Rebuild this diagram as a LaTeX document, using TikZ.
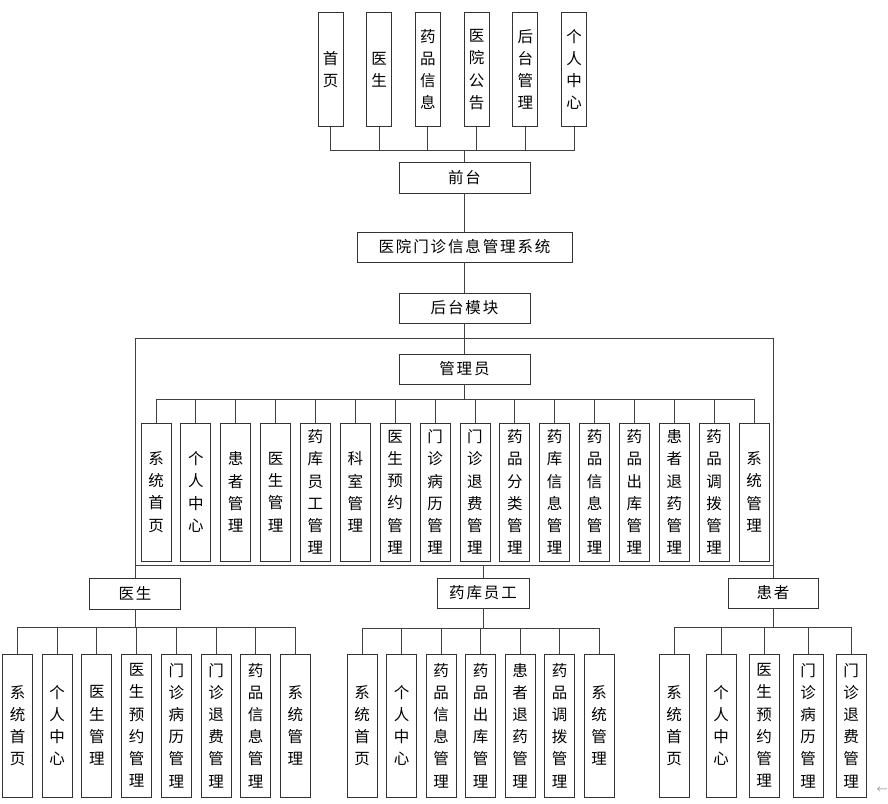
\documentclass[tikz,border=0pt]{standalone}
\usepackage{fontspec}
\newfontfamily\cjk{Noto Sans CJK SC}
\newfontfamily\cjkh{Noto Sans CJK SC}[LetterSpace=12]
\begin{document}
\begin{tikzpicture}[x=1pt,y=-1pt,
  box/.style={draw=black!80, line width=0.9pt, inner sep=0pt, fill=white},
  hbox/.style={box, minimum height=31pt, font=\cjkh\fontsize{15.5}{18}\selectfont},
  vbox/.style={box, align=center, font=\cjk\fontsize{15.5}{22.2}\selectfont},
  conn/.style={draw=black!75, line width=0.9pt}]
\useasboundingbox (0,0) rectangle (888,803);

% top row
\foreach \lab [count=\i from 0] in {{首\\页},{医\\生},{药\\品\\信\\息},{医\\院\\公\\告},{后\\台\\管\\理},{个\\人\\中\\心}}{
  \pgfmathsetmacro{\cx}{330.5+48.7*\i}
  \node[vbox, minimum width=25pt, minimum height=114pt] (t\i) at (\cx,69.5) {\lab};
}
\node[hbox, minimum width=131pt] (qt) at (464.5,177.5) {前台};
\node[hbox, minimum width=215pt, minimum height=30pt] (sys) at (464.5,247) {医院门诊信息管理系统};
\node[hbox, minimum width=131pt, minimum height=30pt] (hm) at (464.5,308) {后台模块};
\node[hbox, minimum width=131pt, minimum height=30pt] (gl) at (464.5,369) {管理员};

\foreach \i in {0,...,5}{ \draw[conn] (qt.north) -- ++(0,-11) -| (t\i.south); }
\draw[conn] (qt.south) -- (sys.north);
\draw[conn] (sys.south) -- (hm.north);
\draw[conn] (hm.south) -- (gl.north);

% admin children
\foreach \lab [count=\i from 0] in {{系\\统\\首\\页},{个\\人\\中\\心},{患\\者\\管\\理},{医\\生\\管\\理},{药\\库\\员\\工\\管\\理},{科\\室\\管\\理},{医\\生\\预\\约\\管\\理},{门\\诊\\病\\历\\管\\理},{门\\诊\\退\\费\\管\\理},{药\\品\\分\\类\\管\\理},{药\\库\\信\\息\\管\\理},{药\\品\\信\\息\\管\\理},{药\\品\\出\\库\\管\\理},{患\\者\\退\\药\\管\\理},{药\\品\\调\\拨\\管\\理},{系\\统\\管\\理}}{
  \pgfmathsetmacro{\cx}{156+39.87*\i}
  \node[vbox, minimum width=30pt, minimum height=138pt] (a\i) at (\cx,492) {\lab};
  \draw[conn] (a\i.north) -- ++(0,-23) -| (gl.south);
}

% frame
\node[hbox, minimum width=91pt] (ys) at (135,593.5) {医生};
\node[hbox, minimum width=92pt, minimum height=30pt] (yk) at (483,593) {药库员工};
\node[hbox, minimum width=90pt, minimum height=30pt] (hz) at (773,593) {患者};
\coordinate (ftl) at (135,338);
\coordinate (ftr) at (773,338);
\coordinate (fbl) at (135,565);
\coordinate (fbr) at (773,565);
\draw[conn] (ys.north) -- (ftl) -- (ftr) -- (hz.north);
\draw[conn] (fbl) -- (fbr);
\draw[conn] (yk.north) -- (yk.north |- fbl);

% doctor children
\foreach \lab [count=\i from 0] in {{系\\统\\首\\页},{个\\人\\中\\心},{医\\生\\管\\理},{医\\生\\预\\约\\管\\理},{门\\诊\\病\\历\\管\\理},{门\\诊\\退\\费\\管\\理},{药\\品\\信\\息\\管\\理},{系\\统\\管\\理}}{
  \pgfmathsetmacro{\cx}{17.5+39.7*\i}
  \node[vbox, minimum width=30pt, minimum height=143pt] (d\i) at (\cx,725.5) {\lab};
  \draw[conn] (ys.south) -- ++(0,18) -| (d\i.north);
}

% pharmacy staff children
\foreach \lab [count=\i from 0] in {{系\\统\\首\\页},{个\\人\\中\\心},{药\\品\\信\\息\\管\\理},{药\\品\\出\\库\\管\\理},{患\\者\\退\\药\\管\\理},{药\\品\\调\\拨\\管\\理},{系\\统\\管\\理}}{
  \pgfmathsetmacro{\cx}{362+39.5*\i}
  \node[vbox, minimum width=30pt, minimum height=143pt] (k\i) at (\cx,725.5) {\lab};
  \draw[conn] (yk.south) -- ++(0,20) -| (k\i.north);
}

% patient children
\foreach \cx/\lab [count=\i from 0] in {674/{系\\统\\首\\页},721/{个\\人\\中\\心},764/{医\\生\\预\\约\\管\\理},808/{门\\诊\\病\\历\\管\\理},851/{门\\诊\\退\\费\\管\\理}}{
  \node[vbox, minimum width=30pt, minimum height=143pt] (p\i) at (\cx,725.5) {\lab};
  \draw[conn] (hz.south) -- ++(0,19) -| (p\i.north);
}

\node[text=black!40, font=\cjk\fontsize{11}{12}\selectfont, inner sep=0pt] (arr) at (882,790) {←};
\end{tikzpicture}
\end{document}
